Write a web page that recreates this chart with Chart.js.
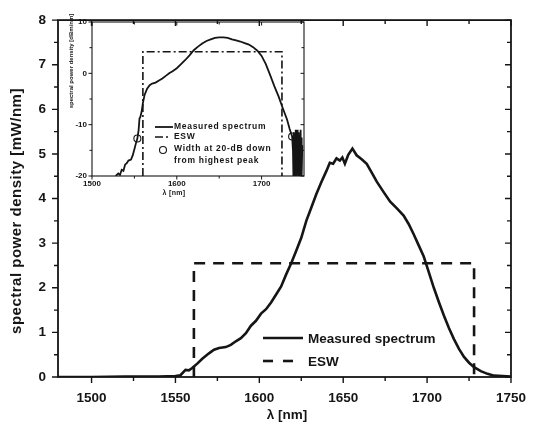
<!DOCTYPE html>
<html>
<head>
<meta charset="utf-8">
<script src="https://cdn.jsdelivr.net/npm/chart.js@4.4.1/dist/chart.umd.min.js"></script>
<style>
  html, body { margin: 0; padding: 0; background: #fff; }
  #wrap { position: relative; width: 539px; height: 432px; }
  #main { position: absolute; left: 0; top: 0; }
  #inset { position: absolute; left: 60px; top: 10px; }
</style>
</head>
<body>
<div id="wrap">
  <canvas id="main" width="539" height="432"></canvas>
  <canvas id="inset" width="260" height="190"></canvas>
</div>
<script>
// ---- main plot data (linear, mW/nm) ----
const spectrumNm = [1480, 1500, 1520, 1540, 1550, 1553, 1556, 1558, 1560, 1563, 1566, 1570, 1573, 1576, 1580,
  1583, 1586, 1589, 1592, 1595, 1598, 1601, 1604, 1607, 1610, 1613, 1616, 1619, 1622, 1625, 1628, 1631,
  1634, 1637, 1640, 1642, 1644, 1646, 1648, 1649.5, 1651, 1653, 1655.5, 1658, 1661, 1664, 1667, 1670,
  1674, 1678, 1682, 1686, 1689, 1692, 1695, 1698, 1701, 1704, 1707, 1710, 1713, 1716, 1719, 1722, 1725,
  1728, 1732, 1736, 1740, 1745, 1750];
const spectrumMw = [0.0, 0.0, 0.01, 0.01, 0.02, 0.04, 0.16, 0.15, 0.20, 0.30, 0.41, 0.53, 0.61, 0.65, 0.67,
  0.72, 0.80, 0.87, 0.98, 1.15, 1.26, 1.42, 1.52, 1.67, 1.85, 2.03, 2.30, 2.55, 2.83, 3.12, 3.50, 3.80,
  4.10, 4.37, 4.62, 4.80, 4.78, 4.90, 4.85, 4.92, 4.78, 4.98, 5.12, 4.97, 4.88, 4.78, 4.58, 4.38,
  4.15, 3.93, 3.78, 3.62, 3.43, 3.20, 2.95, 2.70, 2.35, 2.00, 1.68, 1.38, 1.10, 0.85, 0.63, 0.45, 0.32,
  0.22, 0.13, 0.07, 0.03, 0.02, 0.01];
const eswEdgesNm = [1561, 1728];
const eswLevelMw = 2.55;

const xTickLabels = [1500, 1550, 1600, 1650, 1700, 1750];
const xMinorTicks = [1525, 1575, 1625, 1675, 1725];
const yTickLabels = [0, 1, 2, 3, 4, 5, 6, 7, 8];
const yMinorTicks = [0.5, 1.5, 2.5, 3.5, 4.5, 5.5, 6.5, 7.5];

// ---- inset data (log, dBm/nm) ----
const insetNm = [1528, 1531, 1533, 1535, 1537, 1539, 1541, 1543, 1546, 1548, 1550, 1552, 1553.5, 1555, 1556,
  1557, 1558.5, 1560, 1562, 1565, 1568, 1571, 1575, 1579, 1583, 1587, 1591, 1595, 1600, 1605, 1610, 1615,
  1620, 1625, 1630, 1635, 1640, 1645, 1650, 1655, 1660, 1665, 1670, 1675, 1680, 1685, 1690, 1695, 1700,
  1705, 1710, 1715, 1720, 1725, 1730, 1733, 1736, 1737, 1737.5, 1738, 1738.5, 1739, 1739.5, 1740, 1740.5,
  1741, 1741.5, 1742, 1742.5, 1743, 1743.5, 1744, 1744.5, 1745, 1745.5, 1746, 1746.5, 1747, 1747.5, 1748];
const insetDbm = [-20, -19.5, -19.8, -18.8, -19.0, -17.8, -17.5, -17.0, -16.8, -16.0, -14.8, -13.5, -12.7, -11.0, -8.8,
  -8.5, -7.5, -5.8, -4.2, -3.0, -2.3, -2.0, -1.8, -1.4, -1.0, -0.5, 0.0, 0.4, 1.0, 1.8, 2.6, 3.5,
  4.5, 5.2, 5.8, 6.3, 6.6, 6.9, 7.0, 7.0, 6.9, 6.6, 6.4, 6.2, 5.9, 5.6, 5.1, 4.4, 3.4,
  1.8, -0.3, -2.5, -4.5, -6.8, -9.0, -10.8, -12.3, -15, -20, -11.5, -19, -12, -20, -11, -18.5,
  -12.5, -20, -11, -19.5, -13, -20, -11.5, -18, -12, -20, -11, -19, -12.5, -20, -14];
const insetEswEdgesNm = [1560, 1724];
const insetEswLevelDbm = 4.2;
const insetMarkerNm = [1553.5, 1736];
const insetMarkerDbm = [-12.7, -12.3];

const insetXTickLabels = [1500, 1600, 1700];
const insetXMinorTicks = [1550, 1650];
const insetYTickLabels = [-20, -10, 0, 10];
const insetYMinorTicks = [-15, -5, 5];

const INK = '#151515';
const FONT = 'Arial, "Liberation Sans", sans-serif';

function toPoints(xs, ys) {
    return xs.map((x, i) => ({ x: x, y: ys[i] }));
}

function eswBox(edges, level, floor) {
    return [
        { x: edges[0], y: floor }, { x: edges[0], y: level },
        { x: edges[1], y: level }, { x: edges[1], y: floor }
    ];
}

// frame + tick marks, dir: +1 inwards, -1 outwards
function drawFrame(chart, o) {
    const ctx = chart.ctx;
    const a = chart.chartArea;
    const sx = chart.scales.x, sy = chart.scales.y;
    ctx.save();
    ctx.strokeStyle = INK;
    ctx.lineWidth = o.frameWidth;
    ctx.strokeRect(a.left, a.top, a.right - a.left, a.bottom - a.top);
    ctx.lineWidth = o.tickWidth;
    ctx.beginPath();
    const xt = o.xMajor.map(v => [v, o.major]).concat(o.xMinor.map(v => [v, o.minor]));
    xt.forEach(([v, len]) => {
        const px = sx.getPixelForValue(v);
        ctx.moveTo(px, a.bottom); ctx.lineTo(px, a.bottom - o.dir.bottom * len);
        ctx.moveTo(px, a.top); ctx.lineTo(px, a.top + o.dir.top * len);
    });
    const yt = o.yMajor.map(v => [v, o.major]).concat(o.yMinor.map(v => [v, o.minor]));
    yt.forEach(([v, len]) => {
        const py = sy.getPixelForValue(v);
        ctx.moveTo(a.left, py); ctx.lineTo(a.left + o.dir.left * len, py);
        ctx.moveTo(a.right, py); ctx.lineTo(a.right - o.dir.right * len, py);
    });
    ctx.stroke();
    ctx.restore();
}

function drawText(ctx, text, x, y, font, opts) {
    opts = opts || {};
    ctx.save();
    ctx.fillStyle = INK;
    ctx.font = font;
    ctx.letterSpacing = opts.spacing || '0px';
    ctx.textAlign = opts.align || 'left';
    ctx.textBaseline = 'middle';
    ctx.translate(x, y);
    if (opts.rotate) ctx.rotate(opts.rotate);
    ctx.fillText(text, 0, 0);
    ctx.restore();
}

function legendLine(ctx, x1, x2, y, width, dash) {
    ctx.save();
    ctx.strokeStyle = INK;
    ctx.lineWidth = width;
    ctx.setLineDash(dash || []);
    ctx.beginPath();
    ctx.moveTo(x1, y); ctx.lineTo(x2, y);
    ctx.stroke();
    ctx.restore();
}

// ====================
// MAIN CHART
// ====================
const mainDecor = {
    id: 'mainDecor',
    afterDraw(chart) {
        const ctx = chart.ctx;
        drawFrame(chart, {
            frameWidth: 1.8, tickWidth: 1.4, major: 6, minor: 4,
            xMajor: xTickLabels, xMinor: xMinorTicks, yMajor: yTickLabels, yMinor: yMinorTicks,
            dir: { bottom: -1, top: 1, left: -1, right: 1 }
        });
        drawText(ctx, 'spectral power density [mW/nm]', 17, 211, 'bold 15px ' + FONT, { align: 'center', rotate: -Math.PI / 2, spacing: '0.5px' });
        drawText(ctx, 'λ [nm]', 287, 415, 'bold 13.5px ' + FONT, { align: 'center' });
        // legend
        legendLine(ctx, 263, 303, 338, 2.6);
        drawText(ctx, 'Measured spectrum', 308, 339, 'bold 13.5px ' + FONT);
        legendLine(ctx, 263, 293, 361, 2.6, [10, 10]);
        drawText(ctx, 'ESW', 308, 362, 'bold 13.5px ' + FONT);
    }
};

new Chart(document.getElementById('main'), {
    type: 'line',
    data: {
        datasets: [{
            label: 'Measured spectrum',
            data: toPoints(spectrumNm, spectrumMw),
            borderColor: INK,
            borderWidth: 2.6,
            pointRadius: 0,
            tension: 0
        }, {
            label: 'ESW',
            data: eswBox(eswEdgesNm, eswLevelMw, 0),
            borderColor: INK,
            borderWidth: 2.6,
            borderDash: [11, 8],
            pointRadius: 0,
            tension: 0
        }]
    },
    options: {
        responsive: false,
        animation: false,
        devicePixelRatio: 1,
        layout: { padding: { top: 7, right: 23, left: 0, bottom: 0 } },
        plugins: { legend: { display: false }, tooltip: { enabled: false } },
        scales: {
            x: {
                type: 'linear',
                min: 1480,
                max: 1750,
                grid: { display: false, drawTicks: false },
                border: { display: false },
                afterBuildTicks: function(scale) {
                    scale.ticks = xTickLabels.map(v => ({ value: v }));
                },
                afterFit: function(scale) { scale.height = 55; },
                ticks: {
                    color: INK,
                    padding: 13,
                    maxRotation: 0,
                    font: { family: FONT, size: 13.5, weight: 'bold' },
                    callback: function(value) { return String(value); }
                }
            },
            y: {
                type: 'linear',
                min: 0,
                max: 8,
                grid: { display: false, drawTicks: false },
                border: { display: false },
                afterBuildTicks: function(scale) {
                    scale.ticks = yTickLabels.map(v => ({ value: v }));
                },
                afterFit: function(scale) { scale.width = 58; },
                ticks: {
                    color: INK,
                    padding: 12,
                    font: { family: FONT, size: 13.5, weight: 'bold' },
                    callback: function(value) { return String(value); }
                }
            }
        }
    },
    plugins: [mainDecor]
});

// ====================
// INSET (dBm scale)
// ====================
const insetDecor = {
    id: 'insetDecor',
    afterDraw(chart) {
        const ctx = chart.ctx;
        drawFrame(chart, {
            frameWidth: 1.1, tickWidth: 1, major: 3.5, minor: 2.5,
            xMajor: insetXTickLabels, xMinor: insetXMinorTicks, yMajor: insetYTickLabels, yMinor: insetYMinorTicks,
            dir: { bottom: -1, top: 1, left: -1, right: 1 }
        });
        drawText(ctx, 'spectral power density [dBm/nm]', 11, 51, 'bold 6px ' + FONT, { align: 'center', rotate: -Math.PI / 2 });
        drawText(ctx, 'λ [nm]', 114, 183, 'bold 7px ' + FONT, { align: 'center', spacing: '0.3px' });
        // legend
        const f = 'bold 8.5px ' + FONT;
        legendLine(ctx, 95, 113, 117, 1.8);
        drawText(ctx, 'Measured spectrum', 114, 117, f, { spacing: '0.7px' });
        legendLine(ctx, 95, 110, 127, 1.6, [8, 3, 2, 3]);
        drawText(ctx, 'ESW', 114, 127, f, { spacing: '0.7px' });
        ctx.save();
        ctx.beginPath();
        ctx.arc(103, 140, 3.5, 0, Math.PI * 2);
        ctx.fillStyle = '#fff';
        ctx.fill();
        ctx.strokeStyle = INK;
        ctx.lineWidth = 1.1;
        ctx.stroke();
        ctx.restore();
        drawText(ctx, 'Width at 20-dB down', 114, 139, f, { spacing: '0.7px' });
        drawText(ctx, 'from highest peak', 114, 151, f, { spacing: '0.7px' });
    }
};

new Chart(document.getElementById('inset'), {
    type: 'line',
    data: {
        datasets: [{
            label: 'Measured spectrum',
            data: toPoints(insetNm, insetDbm),
            borderColor: INK,
            borderWidth: 1.8,
            pointRadius: 0,
            tension: 0
        }, {
            label: 'ESW',
            data: eswBox(insetEswEdgesNm, insetEswLevelDbm, -20),
            borderColor: INK,
            borderWidth: 1.6,
            borderDash: [8, 3, 2, 3],
            pointRadius: 0,
            tension: 0
        }, {
            label: 'Width at 20-dB down from highest peak',
            data: toPoints(insetMarkerNm, insetMarkerDbm),
            showLine: false,
            pointRadius: 3.5,
            pointBackgroundColor: '#fff',
            pointBorderColor: INK,
            pointBorderWidth: 1.1,
            clip: false
        }]
    },
    options: {
        responsive: false,
        animation: false,
        devicePixelRatio: 1,
        layout: { padding: { top: 12, right: 16, left: 0, bottom: 0 } },
        plugins: { legend: { display: false }, tooltip: { enabled: false } },
        scales: {
            x: {
                type: 'linear',
                min: 1500,
                max: 1750,
                grid: { display: false, drawTicks: false },
                border: { display: false },
                afterBuildTicks: function(scale) {
                    scale.ticks = insetXTickLabels.map(v => ({ value: v }));
                },
                afterFit: function(scale) { scale.height = 24; },
                ticks: {
                    color: INK,
                    padding: 3,
                    maxRotation: 0,
                    font: { family: FONT, size: 8, weight: 'bold' },
                    callback: function(value) { return String(value); }
                }
            },
            y: {
                type: 'linear',
                min: -20,
                max: 10,
                grid: { display: false, drawTicks: false },
                border: { display: false },
                afterBuildTicks: function(scale) {
                    scale.ticks = insetYTickLabels.map(v => ({ value: v }));
                },
                afterFit: function(scale) { scale.width = 32; },
                ticks: {
                    color: INK,
                    padding: 5,
                    font: { family: FONT, size: 8, weight: 'bold' },
                    callback: function(value) { return String(value); }
                }
            }
        }
    },
    plugins: [insetDecor]
});
</script>
</body>
</html>
